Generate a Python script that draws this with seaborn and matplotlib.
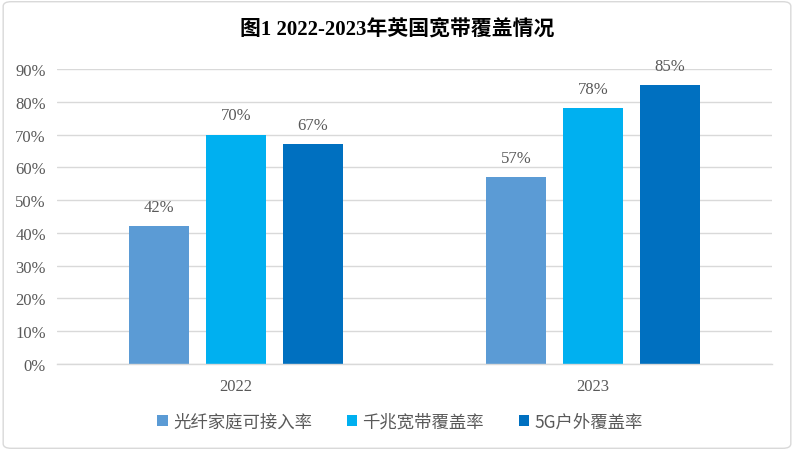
import matplotlib
matplotlib.use("Agg")
import matplotlib.pyplot as plt
from matplotlib.patches import FancyBboxPatch
import seaborn as sns
import pandas as pd

# chart data
years = ["2022", "2023"]
series = ["光纤家庭可接入率", "千兆宽带覆盖率", "5G户外覆盖率"]
fiber = [42, 57]
gigabit = [70, 78]
fiveg = [67, 85]
colors = ["#5B9BD5", "#00B0F0", "#0070C0"]

sns.set_theme(style="white")
plt.rcParams['font.family'] = ['Liberation Serif', 'Noto Sans CJK SC']

rows = []
for name, vals in zip(series, [fiber, gigabit, fiveg]):
    for y, v in zip(years, vals):
        rows.append({"year": y, "series": name, "value": v})
df = pd.DataFrame(rows)

fig = plt.figure(figsize=(7.94, 4.52), dpi=100)
ax = fig.add_axes([0.0718, 0.1925, 0.9002, 0.6525])

sns.barplot(data=df, x="year", y="value", hue="series", hue_order=series,
            palette=colors, width=0.645, gap=0.22, saturation=1,
            errorbar=None, linewidth=0, ax=ax)

ax.set_xlim(-0.5, 1.5)
ax.set_ylim(0, 90)
ax.set_yticks(range(0, 91, 10))
ax.set_yticklabels([f"{t}%" for t in range(0, 91, 10)])
ax.yaxis.grid(True, color="#D9D9D9", linewidth=1)
ax.set_axisbelow(True)
for s in ["top", "right", "left"]:
    ax.spines[s].set_visible(False)
ax.spines["bottom"].set_color("#D9D9D9")
ax.spines["bottom"].set_linewidth(1)
ax.tick_params(axis="both", length=0, labelsize=12, labelcolor="#595959")
ax.tick_params(axis="x", pad=10)
ax.tick_params(axis="y", pad=8)
ax.set_xlabel("")
ax.set_ylabel("")

for cont in ax.containers:
    ax.bar_label(cont, labels=[f"{v:.0f}%" for v in cont.datavalues],
                 padding=8, fontsize=12, color="#595959")

ax.legend(loc="center", bbox_to_anchor=(0.48, -0.195), ncol=3, frameon=False,
          handlelength=0.6, handleheight=0.6, handletextpad=0.3,
          columnspacing=2.0, labelcolor="#595959",
          prop={'family': ['Noto Sans CJK SC'], 'size': 12.5})

fig.text(0.5, 0.932, "图1 2022-2023年英国宽带覆盖情况", ha="center", va="center",
         fontsize=15, fontweight="bold", color="black",
         family=['Liberation Serif', 'Noto Sans CJK SC'])

border = FancyBboxPatch((0.004, 0.006), 0.992, 0.988, boxstyle="round,pad=0,rounding_size=0.01",
                        transform=fig.transFigure, fill=False, edgecolor="#D9D9D9", linewidth=1)
fig.patches.append(border)

fig.savefig("out.png", dpi=100)
